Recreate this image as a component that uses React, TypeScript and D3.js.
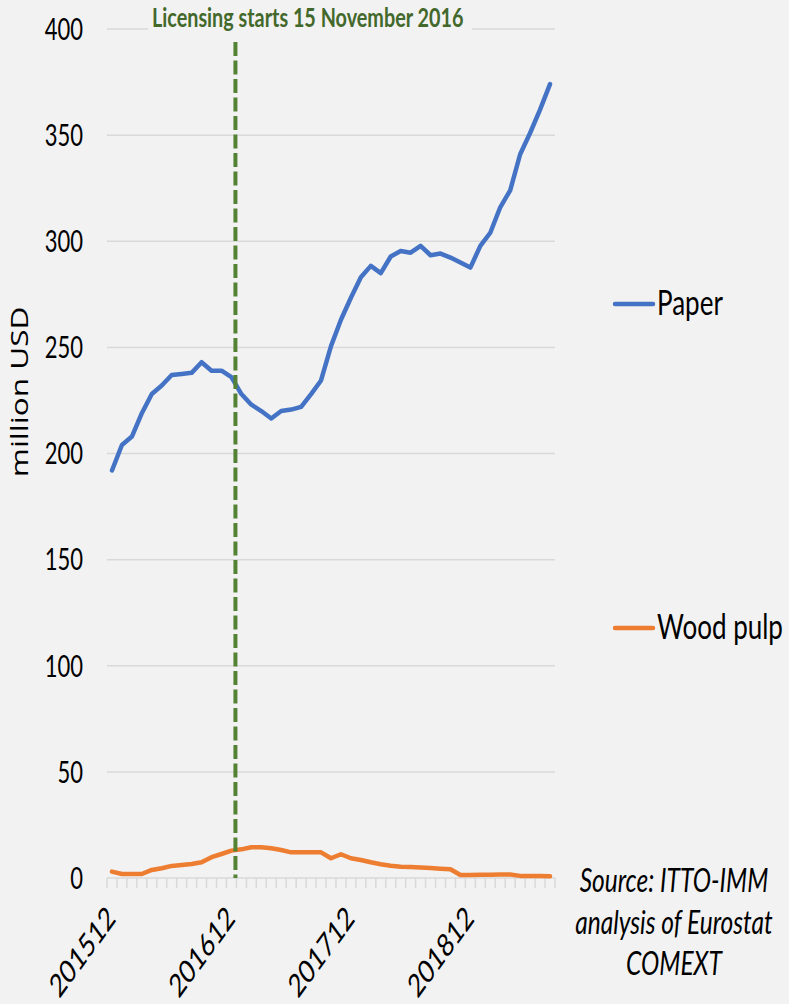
import React from 'react';
import * as d3 from 'd3';

// months on the category axis (one point per month)
const months = [
  '201512', '201601', '201602', '201603', '201604', '201605', '201606', '201607', '201608',
  '201609', '201610', '201611', '201612', '201701', '201702', '201703', '201704', '201705',
  '201706', '201707', '201708', '201709', '201710', '201711', '201712', '201801', '201802',
  '201803', '201804', '201805', '201806', '201807', '201808', '201809', '201810', '201811',
  '201812', '201901', '201902', '201903', '201904', '201905', '201906', '201907', '201908',
];
const shownLabels = ['201512', '201612', '201712', '201812'];

// million USD
const paper = [
  192, 204, 208, 219, 228, 232, 237, 237.5, 238, 243, 239, 239, 236, 228, 223, 220, 216.5,
  220, 220.7, 222, 228, 234.4, 250.6, 263, 273.4, 283, 288.4, 285, 292.8, 295.4, 294.6, 297.8,
  293.4, 294.2, 292.3, 290, 287.6, 297.8, 304, 316, 324, 341, 351, 362, 374,
];
const woodPulp = [
  3.0, 1.9, 1.9, 1.9, 3.8, 4.6, 5.7, 6.1, 6.6, 7.4, 9.8, 11.3, 12.9, 13.5, 14.5, 14.5, 14.0,
  13.2, 12.1, 12.1, 12.1, 12.1, 9.3, 11.2, 9.3, 8.5, 7.4, 6.5, 5.8, 5.3, 5.2, 4.9, 4.7, 4.4,
  4.1, 1.4, 1.4, 1.5, 1.5, 1.6, 1.6, 1.0, 0.9, 0.9, 0.8,
];
const yTicks = [0, 50, 100, 150, 200, 250, 300, 350, 400];

// licensing line sits a little after the 201612 point in the original
const licenseIndex = 12.4;

const W = 789;
const H = 1004;
const SY = 1.37; // the source picture is stretched vertically, text too

const App = () => {
  const x = d3.scaleLinear().domain([-0.5, months.length - 0.5]).range([107, 555]);
  const y = d3.scaleLinear().domain([0, 400]).range([878, 29]);

  const line = d3.line<number>()
    .x((d, i) => x(i))
    .y(d => y(d));

  const font = 'Lato, "Open Sans", sans-serif';
  const lx = x(licenseIndex);

  return (
    <div style={{ position: 'absolute', left: 0, top: 0 }}>
      <svg width={W} height={H} style={{ display: 'block', background: '#f2f2f2' }}>
        <rect width={W} height={H} fill="#f2f2f2" />

        {/* gridlines */}
        {yTicks.map(t => (
          <line key={t} x1={x.range()[0]} x2={x.range()[1]} y1={y(t)} y2={y(t)}
            stroke="#d9d9d9" strokeWidth={1.5} />
        ))}

        {/* category tick marks */}
        {d3.range(months.length + 1).map(k => (
          <line key={k} x1={x(k - 0.5)} x2={x(k - 0.5)} y1={y(0)} y2={y(0) + 10}
            stroke="#d9d9d9" strokeWidth={1.5} />
        ))}

        {/* y labels */}
        {yTicks.map(t => (
          <text key={t} transform={`translate(83,${y(t)}) scale(1,${SY})`} textAnchor="end"
            dy="0.36em" fontFamily={font} fontSize={22} fill="#000">{t}</text>
        ))}
        <text transform={`translate(28,392) rotate(-90) scale(${SY},1)`} textAnchor="middle"
          fontFamily='"Open Sans", sans-serif' fontSize={23} fill="#000">million USD</text>

        {/* x labels */}
        {months.map((m, i) => shownLabels.includes(m) ? (
          <text key={m} transform={`translate(${x(i) + 5},${y(0) + 42}) scale(1,${SY}) rotate(-45)`}
            textAnchor="end" fontFamily={font} fontSize={23.5} fill="#000">{m}</text>
        ) : null)}

        {/* series */}
        <path d={line(woodPulp) || ''} fill="none" stroke="#ed7d31" strokeWidth={4.5}
          strokeLinejoin="round" strokeLinecap="round" />
        <path d={line(paper) || ''} fill="none" stroke="#4472c4" strokeWidth={4.5}
          strokeLinejoin="round" strokeLinecap="round" />

        {/* licensing marker */}
        <line x1={lx} x2={lx} y1={42} y2={y(0)} stroke="#548235" strokeWidth={4}
          strokeDasharray="14 4.5" />
        <rect x={148} y={8} width={324} height={30} fill="#f2f2f2" />
        <text transform={`translate(152,27) scale(1,${SY})`} fontFamily={font} fontWeight="bold"
          fontSize={19.8} fill="#43682b">Licensing starts 15 November 2016</text>

        {/* legend */}
        <line x1={615} x2={653} y1={304} y2={304} stroke="#4472c4" strokeWidth={4.5} strokeLinecap="round" />
        <text transform={`translate(657,315) scale(1,${SY})`} fontFamily={font} fontSize={26} fill="#000">Paper</text>
        <line x1={615} x2={653} y1={628} y2={628} stroke="#ed7d31" strokeWidth={4.5} strokeLinecap="round" />
        <text transform={`translate(657,639) scale(1,${SY})`} fontFamily={font} fontSize={26} fill="#000">Wood pulp</text>

        {/* source note */}
        {['Source: ITTO-IMM', 'analysis of Eurostat', 'COMEXT'].map((s, i) => (
          <text key={s} transform={`translate(674,${892 + i * 41.5}) scale(1,${SY})`} textAnchor="middle"
            fontFamily={font} fontStyle="italic" fontSize={24.5} fill="#000">{s}</text>
        ))}
      </svg>
    </div>
  );
};

export default App;
